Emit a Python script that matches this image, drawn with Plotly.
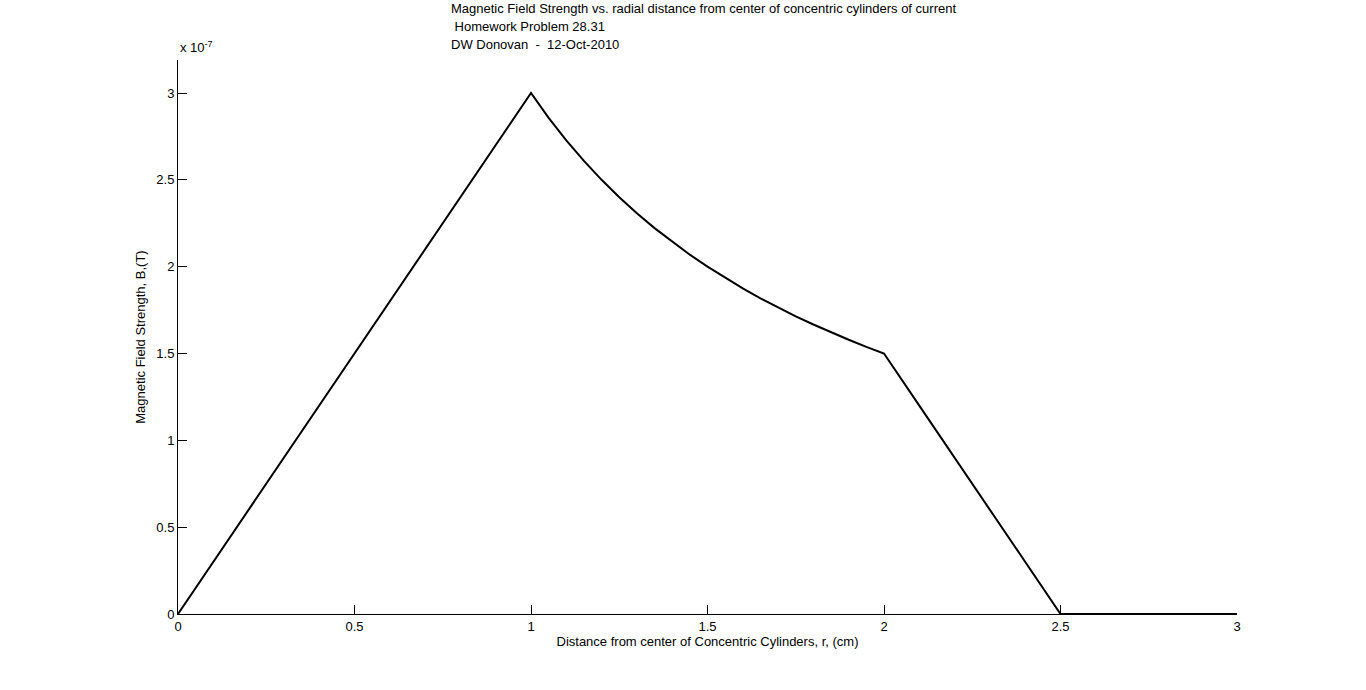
import plotly.graph_objects as go

# radial distance (cm)
r_cm = [0.0, 0.25, 0.5, 0.75, 1.0,
        1.05, 1.1, 1.15, 1.2, 1.25, 1.3, 1.35, 1.4, 1.45, 1.5,
        1.55, 1.6, 1.65, 1.7, 1.75, 1.8, 1.85, 1.9, 1.95, 2.0,
        2.1, 2.2, 2.3, 2.4, 2.5, 2.75, 3.0]
# magnetic field strength in units of 1e-7 T
B_e7 = [0.0, 0.75, 1.5, 2.25, 3.0,
        2.857, 2.727, 2.609, 2.5, 2.4, 2.308, 2.222, 2.143, 2.069, 2.0,
        1.935, 1.875, 1.818, 1.765, 1.714, 1.667, 1.622, 1.579, 1.538, 1.5,
        1.2, 0.9, 0.6, 0.3, 0.0, 0.0, 0.0]

tick_vals = [0, 0.5, 1, 1.5, 2, 2.5, 3]
tick_text = ["0", "0.5", "1", "1.5", "2", "2.5", "3"]

title_lines = [
    "Magnetic Field Strength vs. radial distance from center of concentric cylinders of current",
    "&nbsp;Homework Problem 28.31",
    "DW Donovan  -  12-Oct-2010",
]

FONT = "Liberation Sans, Arial, sans-serif"
FS = 13

L, R, T, B = 178, 129, 60, 76
W, H = 1366, 690
PX0, PY0 = 178, 614  # plot origin on screen
pw, ph = W - L - R, H - T - B

fig = go.Figure()
fig.add_trace(go.Scatter(x=r_cm, y=B_e7, mode="lines",
                         line=dict(color="black", width=2), showlegend=False))

axis_common = dict(showline=True, linecolor="black", linewidth=1, mirror=False,
                   ticks="inside", ticklen=9, tickcolor="black", showgrid=False,
                   zeroline=False, tickfont=dict(family=FONT, size=FS, color="black"))

fig.update_layout(
    width=W, height=H,
    margin=dict(l=L, r=R, t=T, b=B),
    paper_bgcolor="white", plot_bgcolor="white",
    font=dict(family=FONT, size=FS, color="black"),
    xaxis=dict(range=[0, 3], tickvals=tick_vals, ticktext=tick_text,
               title=dict(text="Distance from center of Concentric Cylinders, r, (cm)",
                          standoff=4, font=dict(family=FONT, size=FS)),
               **axis_common),
    yaxis=dict(range=[0, 3.19], tickvals=tick_vals, ticktext=tick_text,
               title=dict(text="Magnetic Field Strength, B,(T)", standoff=7,
                          font=dict(family=FONT, size=FS)),
               **axis_common),
)

for i, line in enumerate(title_lines):
    fig.add_annotation(x=(449 - PX0) / pw, y=(PY0 - (8 + 18 * i)) / ph,
                       xref="paper", yref="paper", text=line,
                       showarrow=False, xanchor="left", yanchor="middle",
                       font=dict(family=FONT, size=FS, color="black"))

fig.add_annotation(x=0, y=1.0, xref="paper", yref="paper", text="x 10<sup>-7</sup>",
                   showarrow=False, xanchor="left", yanchor="bottom", yshift=3,
                   font=dict(family=FONT, size=FS, color="black"))

fig.write_html("out.html", config={"displayModeBar": False},
               post_script="document.body.style.margin='0';")
